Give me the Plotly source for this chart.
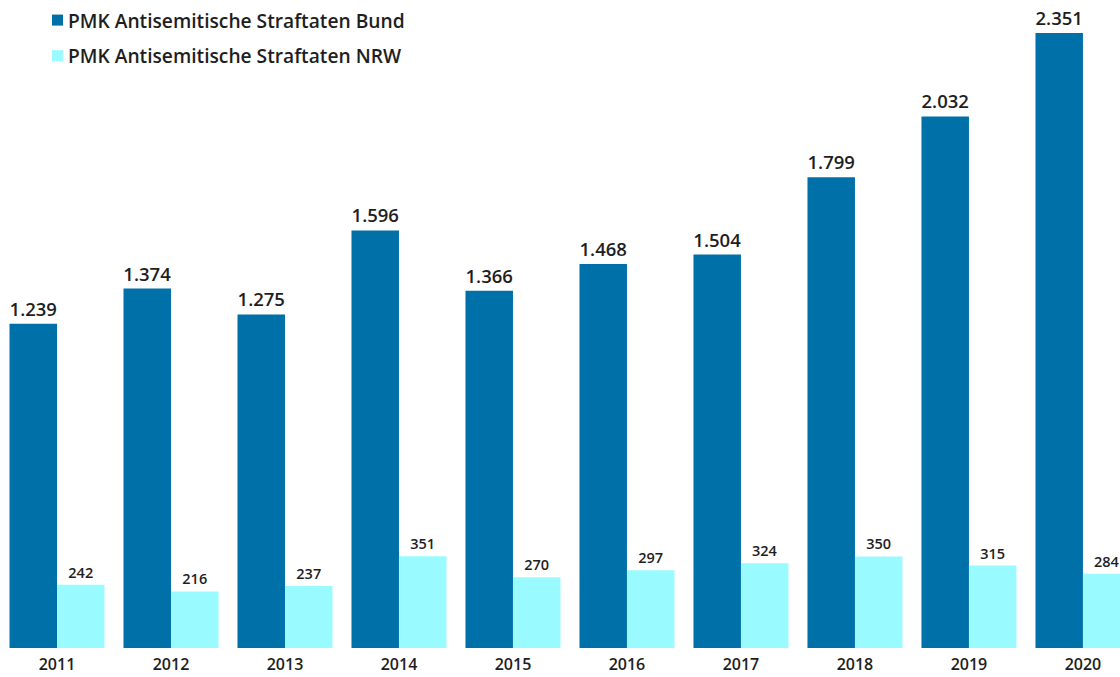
import plotly.graph_objects as go

# Politically motivated antisemitic offences per year
years = ["2011", "2012", "2013", "2014", "2015", "2016", "2017", "2018", "2019", "2020"]
bund = [1239, 1374, 1275, 1596, 1366, 1468, 1504, 1799, 2032, 2351]
nrw = [242, 216, 237, 351, 270, 297, 324, 350, 315, 284]

series_names = ["PMK Antisemitische Straftaten Bund", "PMK Antisemitische Straftaten NRW"]
series_colors = ["#0070a8", "#99faff"]

FONT = "Open Sans"
TEXT = "#1e1e1e"

fig = go.Figure()
fig.add_trace(go.Bar(
    x=years, y=bund, name=series_names[0],
    marker=dict(color=series_colors[0], line=dict(width=0)),
    texttemplate="%{y:,}", textposition="outside", constraintext="none",
    textfont=dict(family=FONT, size=18.5, color=TEXT, weight=600),
    cliponaxis=False, showlegend=False,
))
fig.add_trace(go.Bar(
    x=years, y=nrw, name=series_names[1],
    marker=dict(color=series_colors[1], line=dict(width=0)),
    texttemplate="%{y:,}", textposition="outside", constraintext="none",
    textfont=dict(family=FONT, size=14.5, color=TEXT, weight=600),
    cliponaxis=False, showlegend=False,
))

# Legend drawn as colored squares with labels in the top-left corner
legend_y = [0.969, 0.914]
for name, color, ly in zip(series_names, series_colors, legend_y):
    fig.add_shape(type="rect", xref="paper", yref="paper",
                  x0=52 / 1120, x1=63 / 1120, y0=ly - 5.5 / 648, y1=ly + 5.5 / 648,
                  fillcolor=color, line=dict(width=0))
    fig.add_annotation(text=name, xref="paper", yref="paper", x=66 / 1120, y=ly,
                       xanchor="left", yanchor="middle", showarrow=False,
                       font=dict(family=FONT, size=19.2, color=TEXT, weight=600))

fig.update_layout(
    width=1120, height=677,
    margin=dict(l=0, r=0, t=0, b=29),
    paper_bgcolor="white", plot_bgcolor="white",
    barmode="group", bargap=0.1667, bargroupgap=0,
    separators=",.",
    xaxis=dict(type="category", range=[-0.5, 9.325], showgrid=False, zeroline=False,
               showline=False, ticks="outside", ticklen=2, tickcolor="rgba(0,0,0,0)",
               tickfont=dict(family=FONT, size=16, color=TEXT, weight=600)),
    yaxis=dict(range=[0, 2477], visible=False, showgrid=False, zeroline=False),
)

fig.write_html("out.html")
